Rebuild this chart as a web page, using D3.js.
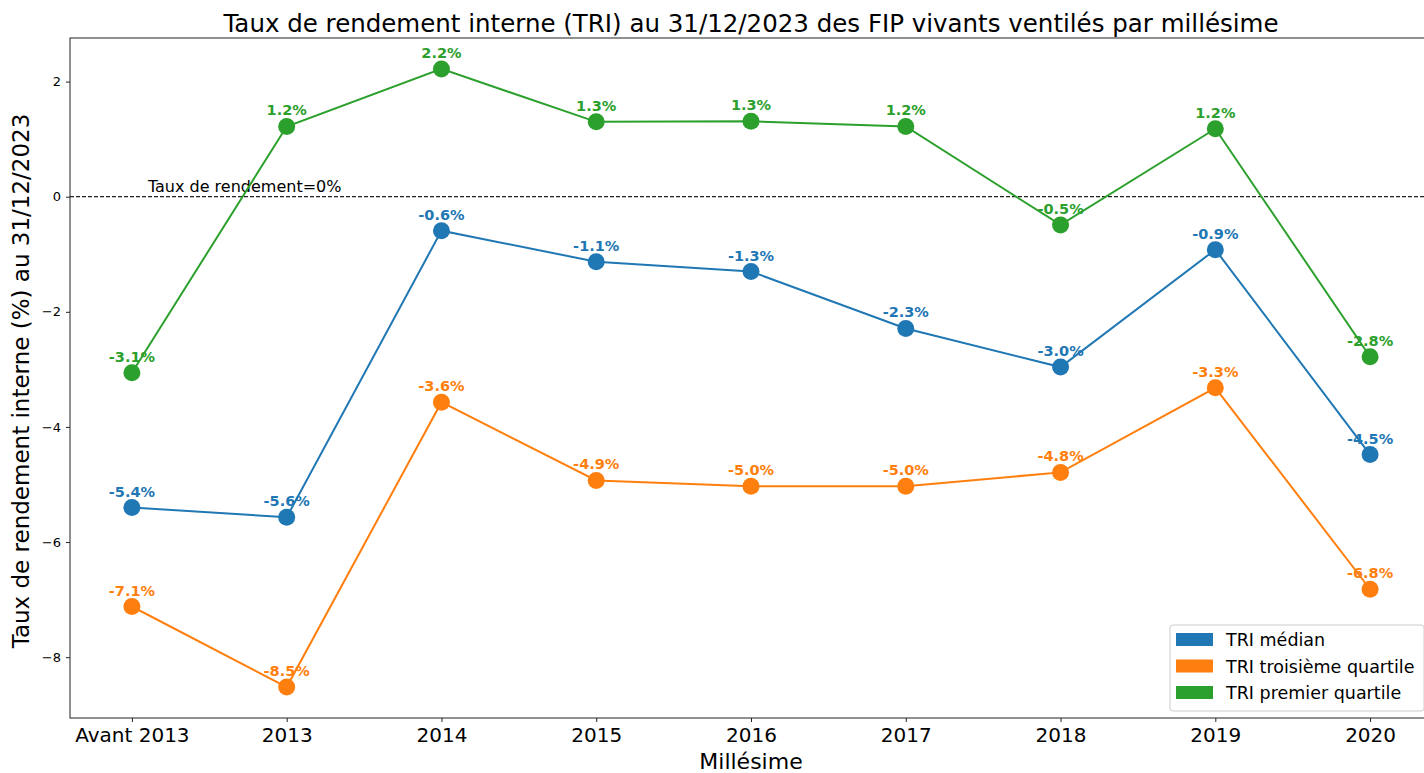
<!DOCTYPE html>
<html>
<head>
<meta charset="utf-8">
<script src="https://cdn.jsdelivr.net/npm/d3@7"></script>
<style>
  body { margin: 0; background: #fff; }
  svg { font-family: "DejaVu Sans", sans-serif; }
</style>
</head>
<body>
<svg id="chart" width="1424" height="773"></svg>
<script>
// millésimes
var categories = ["Avant 2013", "2013", "2014", "2015", "2016", "2017", "2018", "2019", "2020"];
// TRI values (%)
var triMedian   = [-5.40, -5.57, -0.59, -1.13, -1.30, -2.29, -2.96, -0.92, -4.48];
var triTroisieme = [-7.12, -8.52, -3.57, -4.93, -5.03, -5.03, -4.79, -3.32, -6.82];
var triPremier  = [-3.06, 1.22, 2.22, 1.30, 1.31, 1.22, -0.49, 1.18, -2.78];
var yTicks = [2, 0, -2, -4, -6, -8];

var series = [
  {name: "TRI médian", values: triMedian, color: "#1f77b4"},
  {name: "TRI troisième quartile", values: triTroisieme, color: "#ff7f0e"},
  {name: "TRI premier quartile", values: triPremier, color: "#2ca02c"}
];

var margin = {top: 38, left: 70, right: 1432, bottom: 718};
var svg = d3.select("#chart");

var allVals = triMedian.concat(triTroisieme, triPremier);
var lo = d3.min(allVals), hi = d3.max(allVals), pad = (hi - lo) * 0.05;

var xScale = d3.scalePoint().domain(categories).range([margin.left, margin.right]).padding(0.4);
var yScale = d3.scaleLinear().domain([lo - pad, hi + pad]).range([margin.bottom, margin.top]);

// frame
svg.append("rect")
  .attr("x", margin.left).attr("y", margin.top)
  .attr("width", margin.right - margin.left).attr("height", margin.bottom - margin.top)
  .attr("fill", "none").attr("stroke", "#222").attr("stroke-width", 1);

// axes
var xAxis = d3.axisBottom(xScale).tickSize(4).tickPadding(6);
var xg = svg.append("g").attr("transform", "translate(0," + margin.bottom + ")").call(xAxis)
  .attr("font-family", "DejaVu Sans");
xg.select(".domain").remove();
xg.selectAll("text").style("font-size", "20px").attr("fill", "#000");
xg.selectAll("line").attr("stroke", "#222");

var yAxis = d3.axisLeft(yScale).tickValues(yTicks).tickSize(4).tickPadding(5)
  .tickFormat(function(d){ return d < 0 ? "\u2212" + Math.abs(d) : d; });
var yg = svg.append("g").attr("transform", "translate(" + margin.left + ",0)").call(yAxis)
  .attr("font-family", "DejaVu Sans");
yg.select(".domain").remove();
yg.selectAll("text").style("font-size", "13px").attr("fill", "#000");
yg.selectAll("line").attr("stroke", "#222");

// zero line
svg.append("line")
  .attr("x1", margin.left).attr("x2", margin.right)
  .attr("y1", yScale(0)).attr("y2", yScale(0))
  .attr("stroke", "#222").attr("stroke-width", 1.2).attr("stroke-dasharray", "4,2");
svg.append("text")
  .attr("x", xScale("Avant 2013") + 16).attr("y", yScale(0) - 5)
  .style("font-size", "16px").text("Taux de rendement=0%");

// series
var line = d3.line()
  .x(function(d, i){ return xScale(categories[i]); })
  .y(function(d){ return yScale(d); });

series.forEach(function(s){
  var g = svg.append("g");
  g.append("path").datum(s.values)
    .attr("d", line).attr("fill", "none")
    .attr("stroke", s.color).attr("stroke-width", 2);
  g.selectAll("circle").data(s.values).enter().append("circle")
    .attr("cx", function(d, i){ return xScale(categories[i]); })
    .attr("cy", function(d){ return yScale(d); })
    .attr("r", 8.5).attr("fill", s.color);
  g.selectAll("text").data(s.values).enter().append("text")
    .attr("x", function(d, i){ return xScale(categories[i]); })
    .attr("y", function(d){ return yScale(d) - 11; })
    .attr("text-anchor", "middle")
    .style("font-size", "14.5px").style("font-weight", "bold")
    .attr("fill", s.color)
    .text(function(d){ return d.toFixed(1) + "%"; });
});

// title and labels
svg.append("text")
  .attr("x", 751).attr("y", 32).attr("text-anchor", "middle")
  .style("font-size", "24.5px").text("Taux de rendement interne (TRI) au 31/12/2023 des FIP vivants ventilés par millésime");
svg.append("text")
  .attr("x", 751).attr("y", 769).attr("text-anchor", "middle")
  .style("font-size", "22px").text("Millésime");
svg.append("text")
  .attr("transform", "translate(29," + ((margin.top + margin.bottom) / 2 + 3) + ") rotate(-90)")
  .attr("text-anchor", "middle")
  .style("font-size", "23px").text("Taux de rendement interne (%) au 31/12/2023");

// legend
var lg = svg.append("g").attr("transform", "translate(1170,625)");
lg.append("rect").attr("width", 254).attr("height", 86).attr("rx", 3)
  .attr("fill", "#fff").attr("fill-opacity", 0.8).attr("stroke", "#ccc");
series.forEach(function(s, i){
  lg.append("rect").attr("x", 6).attr("y", 8 + i * 26.5).attr("width", 37).attr("height", 13).attr("fill", s.color);
  lg.append("text").attr("x", 56).attr("y", 21 + i * 26.5)
    .style("font-size", "17.5px").text(s.name);
});
</script>
</body>
</html>
